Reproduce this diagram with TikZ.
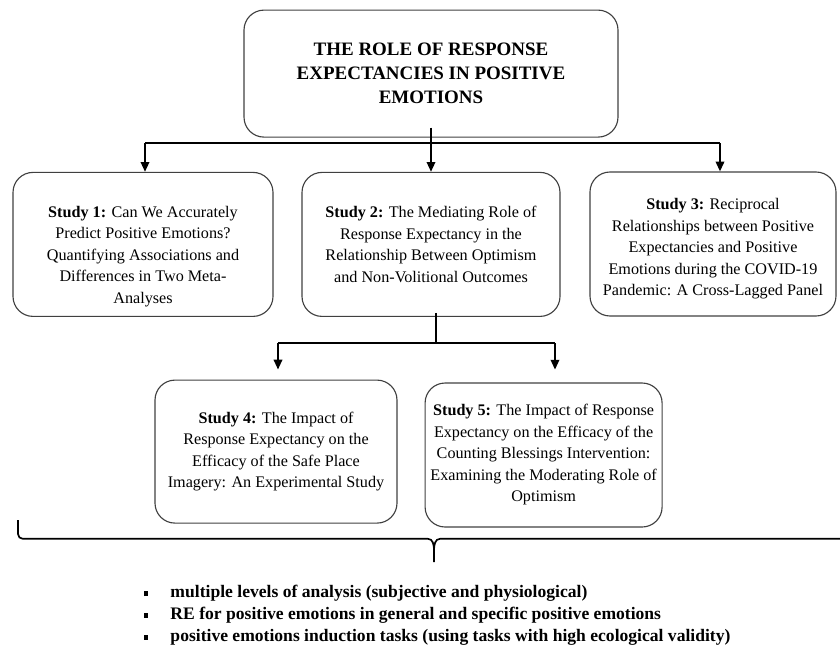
\documentclass[tikz,border=0pt]{standalone}
\usepackage{fontspec}
\setmainfont{Liberation Serif}
\usepackage{xcolor}
\definecolor{boxgray}{RGB}{64,64,64}
\usetikzlibrary{arrows.meta,positioning,calc}

\tikzset{
  studybox/.style={draw=boxgray,line width=0.8pt,rounded corners=0.5cm,
    minimum height=3.6cm,align=center,font=\fontsize{11.5}{15.3}\selectfont},
  link/.style={line width=1.4pt,black},
  linkarrow/.style={link,-{Triangle[length=7pt,width=6pt]}}
}

\begin{document}
\begin{tikzpicture}
  \useasboundingbox (0,0) rectangle (21,-16.5);
  % main topic
  \node[studybox,minimum width=9.35cm,minimum height=3.175cm,
    font=\fontsize{13.5}{17.2}\selectfont\bfseries] (title) at (10.775,-1.84)
    {THE ROLE OF RESPONSE\\EXPECTANCIES IN POSITIVE\\EMOTIONS};
  % first row of studies
  \node[studybox,minimum width=6.5cm] (study1) at (3.575,-6.11)
    {\rule{0pt}{25pt}\textbf{Study 1:} Can We Accurately\\Predict Positive Emotions?\\Quantifying Associations and\\Differences in Two Meta-\\Analyses};
  \node[studybox,minimum width=6.45cm] (study2) at (10.775,-6.11)
    {\textbf{Study 2:} The Mediating Role of\\Response Expectancy in the\\Relationship Between Optimism\\and Non-Volitional Outcomes};
  \node[studybox,minimum width=6.15cm] (study3) at (17.825,-6.1)
    {\rule{0pt}{15pt}\textbf{Study 3:} Reciprocal\\Relationships between Positive\\Expectancies and Positive\\Emotions during the COVID-19\\Pandemic: A Cross-Lagged Panel};
  % second row of studies
  \node[studybox,minimum width=6.05cm,minimum height=3.575cm] (study4) at (6.9,-11.29)
    {\textbf{Study 4:} The Impact of\\Response Expectancy on the\\Efficacy of the Safe Place\\Imagery: An Experimental Study};
  \node[studybox,minimum width=5.925cm] (study5) at (13.59,-11.375)
    {\textbf{Study 5:} The Impact of Response\\Expectancy on the Efficacy of the\\Counting Blessings Intervention:\\Examining the Moderating Role of\\Optimism};

  % bus from the main topic
  \coordinate (busL) at (3.625,-3.575);
  \coordinate (busR) at (18.0,-3.575);
  \draw[link] (busL) -- (busR);
  \draw[linkarrow] ([yshift=0.25cm]title.south) -- (study2.north);
  \draw[linkarrow] (busL) -- (busL |- study1.north);
  \draw[linkarrow] (busR) -- (busR |- study3.north);

  % bus from study 2
  \coordinate (sub) at (10.9,-8.575);
  \coordinate (subL) at (6.95,-8.575);
  \coordinate (subR) at (13.875,-8.575);
  \draw[link] ([yshift=0.1cm]sub |- study2.south) -- (sub);
  \draw[link] (subL) -- (subR);
  \draw[linkarrow,shorten >=0.25cm] (subL) -- (subL |- study4.north);
  \draw[linkarrow,shorten >=0.32cm] (subR) -- (subR |- study5.north);

  % brace under the studies
  \draw[line width=1.2pt] (0.45,-13.0) -- (0.45,-13.35) arc[start angle=180,end angle=270,radius=0.12cm]
    -- (10.7,-13.47) to[out=0,in=90] (10.85,-13.75) -- (10.85,-14.05);
  \draw[line width=1.2pt] (10.85,-13.75) to[out=90,in=180] (11.0,-13.47) -- (21,-13.47);

  % outcomes
  \node[anchor=north west,inner sep=0pt,font=\fontsize{12.5}{15.6}\selectfont\bfseries] (outcomes) at (3.6,-14.55)
    {\begin{tabular}{@{}l@{\hspace{0.55cm}}l@{}}
      \rule[0.2ex]{3pt}{3.5pt} & multiple levels of analysis (subjective and physiological)\\
      \rule[0.2ex]{3pt}{3.5pt} & RE for positive emotions in general and specific positive emotions\\
      \rule[0.2ex]{3pt}{3.5pt} & positive emotions induction tasks (using tasks with high ecological validity)
    \end{tabular}};
\end{tikzpicture}
\end{document}
